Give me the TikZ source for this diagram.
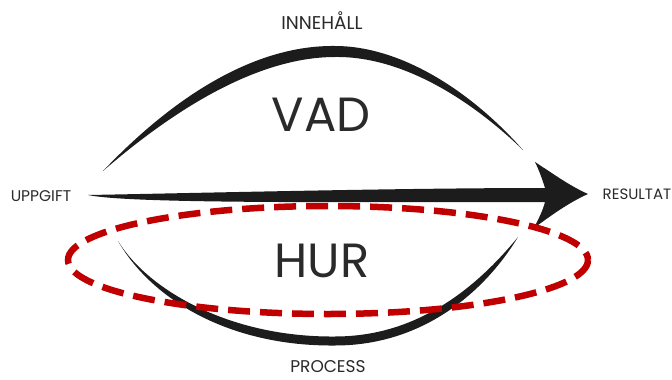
\documentclass[tikz,border=0pt]{standalone}
\usepackage{fontspec}
\setmainfont{Poppins}
\definecolor{ink}{HTML}{1C1C1C}
\definecolor{txt}{HTML}{2A2A2A}
\definecolor{redd}{HTML}{C00000}
\begin{document}
\begin{tikzpicture}[x=1pt,y=-1pt,
  lbl/.style={text=txt,inner sep=0pt,font=\fontsize{15.5}{15.5}\selectfont},
  toplbl/.style={text=txt,inner sep=0pt,font=\fontsize{18.5}{18.5}\selectfont},
  biglbl/.style={text=txt,inner sep=0pt,font=\fontsize{48}{48}\selectfont},
  brush/.style={fill=ink,draw=none},
  dashring/.style={draw=redd,line width=6.5pt,dash pattern=on 22pt off 10pt}]
\useasboundingbox (0,0) rectangle (672,380);
% upper arc
\path[brush] (103,171) .. controls (180,90) and (260,45) .. (335,46)
  .. controls (400,46) and (470,90) .. (523,150)
  .. controls (468,97) and (400,56) .. (335,57)
  .. controls (265,57) and (185,100) .. (103,171) -- cycle;
% lower arc
\path[brush] (118,241) .. controls (152,300) and (230,346.5) .. (335,345.5)
  .. controls (422,345.5) and (484,293) .. (518,237)
  .. controls (477,287) and (418,336.5) .. (335,336.5)
  .. controls (230,337.5) and (148,290) .. (118,241) -- cycle;
% main arrow
\path[brush] (88,195) .. controls (200,193) and (400,188) .. (545,188)
  .. controls (542,178) and (538,168) .. (535,162)
  .. controls (555,175) and (570,186) .. (588,194)
  .. controls (570,202) and (553,214) .. (534,228)
  .. controls (539,218) and (543,210) .. (545,202)
  .. controls (350,202) and (130,204) .. (88,195) -- cycle;
% texts
\node[toplbl] (inn) at (322,21) {INNEHÅLL};
\node[biglbl] (vad) at (321,115) {VAD};
\node[lbl] (upp) at (41,196) {UPPGIFT};
\node[lbl,font=\fontsize{15}{15}\selectfont] (res) at (637,194) {RESULTAT};
\node[biglbl] (hur) at (322,261) {HUR};
\node[toplbl,font=\fontsize{17}{17}\selectfont] (pro) at (328,367) {PROCESS};
% red dashed ellipse
\draw[dashring] (328,260) ellipse [x radius=260, y radius=54];
\end{tikzpicture}
\end{document}
